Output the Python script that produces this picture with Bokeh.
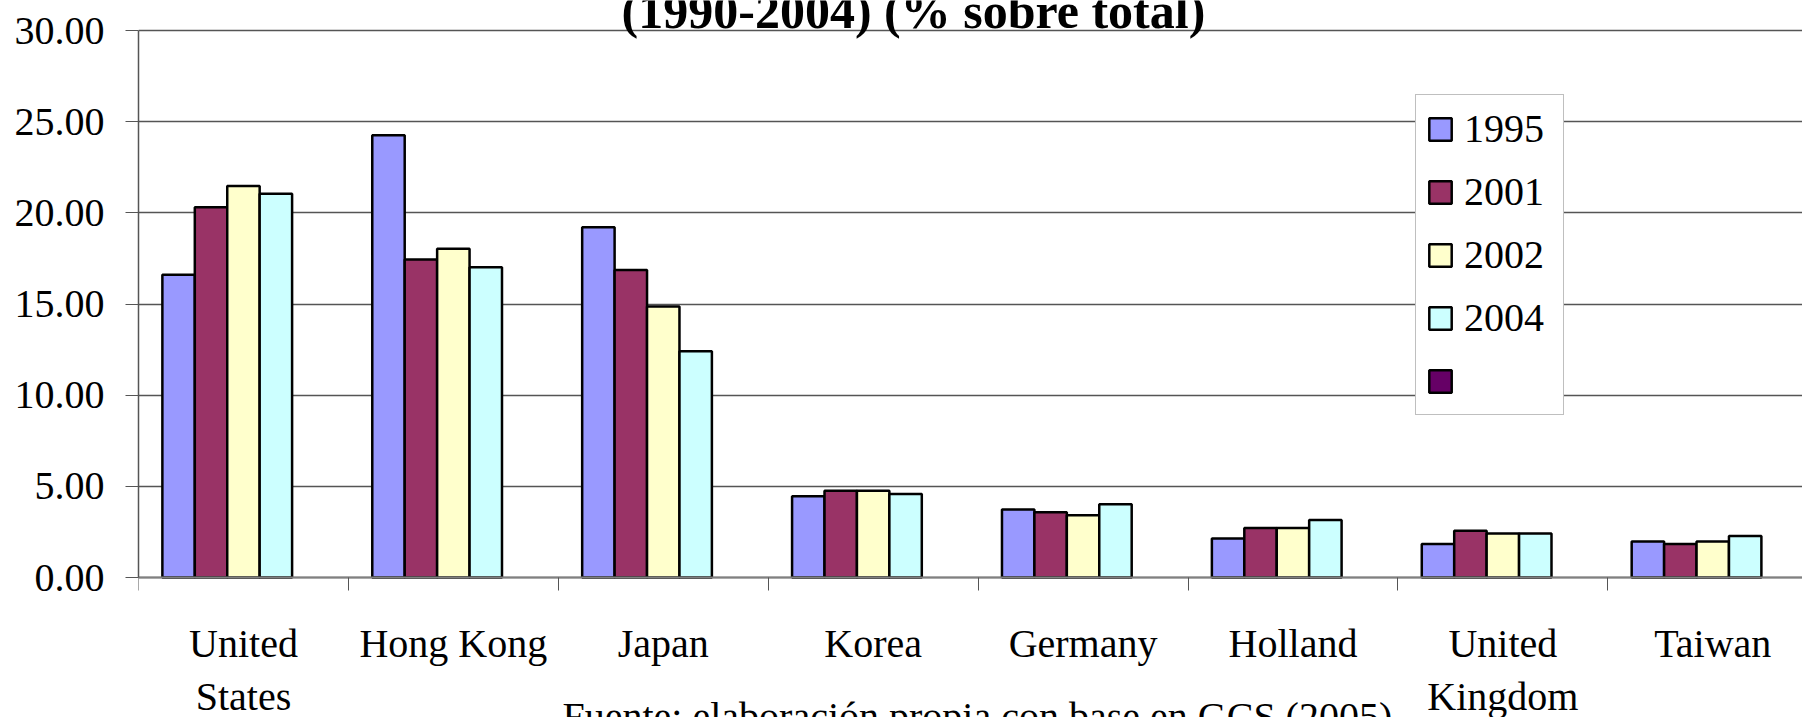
import numpy as np
from bokeh.plotting import figure
from bokeh.models import (ColumnDataSource, FixedTicker, NumeralTickFormatter, Legend,
                          LegendItem, Label, LinearAxis, Range1d)
from bokeh.embed import file_html
from bokeh.resources import INLINE

# ---------------- data ----------------
categories = ["United\nStates", "Hong Kong", "Japan", "Korea", "Germany",
              "Holland", "United\nKingdom", "Taiwan"]
years = ["1995", "2001", "2002", "2004", ""]
v1995 = [16.60, 24.25, 19.21, 4.45, 3.73, 2.14, 1.84, 1.98]
v2001 = [20.31, 17.44, 16.87, 4.76, 3.58, 2.71, 2.57, 1.84]
v2002 = [21.47, 18.03, 14.86, 4.76, 3.41, 2.71, 2.42, 1.98]
v2004 = [21.05, 17.02, 12.41, 4.58, 4.02, 3.15, 2.42, 2.28]
v_empty = [None] * 8   # fifth (unnamed) series of the legend, no values
y_ticks = [0, 5, 10, 15, 20, 25, 30]
title_text = "(1990-2004) (% sobre total)"
source_text = "Fuente: elaboración propia con base en GCS (2005)"

colors = ["#9999FF", "#993366", "#FFFFCC", "#CCFFFF", "#660066"]
FONT = "Liberation Serif"

# ---------------- layout ----------------
W, H = 1802, 717
LEFT = 138
Y0_PX, Y30_PX = 577, 30              # canvas rows of the 0 and 30 gridlines
PXU = (Y0_PX - Y30_PX) / 30.0
y_top = 30 + Y30_PX / PXU
y_bot = -(H - Y0_PX) / PXU
CAT_PX = 209.9
n = len(categories)
x_end = (W - LEFT) / CAT_PX

p = figure(width=W, height=H, x_range=Range1d(0, x_end), y_range=Range1d(y_bot, y_top),
           output_backend="svg", toolbar_location=None,
           min_border_left=LEFT, min_border_right=0, min_border_top=0,
           min_border_bottom=0)
p.outline_line_color = None
p.background_fill_color = "white"
p.border_fill_color = "white"

# grid
p.xgrid.visible = False
p.ygrid.ticker = FixedTicker(ticks=y_ticks)
p.ygrid.grid_line_color = "#555555"
p.ygrid.grid_line_width = 1.5

# y axis
p.yaxis.ticker = FixedTicker(ticks=y_ticks)
p.yaxis.bounds = (0, 30)
p.yaxis.formatter = NumeralTickFormatter(format="0.00")
p.yaxis.major_label_text_font = FONT
p.yaxis.major_label_text_font_size = "40px"
p.yaxis.major_label_text_color = "black"
p.yaxis.major_tick_out = 13
p.yaxis.major_tick_in = 0
p.yaxis.minor_tick_line_color = None
p.yaxis.major_tick_line_color = "#555555"
p.yaxis.axis_line_color = "#555555"
p.yaxis.axis_line_width = 1.5
p.yaxis.major_label_standoff = 21

# x axis at y = 0: labels at category centres, small ticks at category boundaries
centers = [i + 0.5 for i in range(n)]
line1 = [c.split("\n")[0] for c in categories]
line2 = [c.split("\n")[1] if "\n" in c else "" for c in categories]
p.xaxis.fixed_location = 0
p.xaxis.ticker = FixedTicker(ticks=centers, minor_ticks=list(range(n + 1)))
p.xaxis.major_label_overrides = {c: t for c, t in zip(centers, line1)}
p.xaxis.major_tick_out = 0
p.xaxis.major_tick_in = 0
p.xaxis.major_tick_line_color = None
p.xaxis.minor_tick_out = 13
p.xaxis.minor_tick_in = 0
p.xaxis.minor_tick_line_color = "#555555"
p.xaxis.axis_line_color = "#808080"
p.xaxis.axis_line_width = 2
p.xaxis.major_label_standoff = 30
p.xaxis.major_label_text_font = FONT
p.xaxis.major_label_text_font_size = "40px"
p.xaxis.major_label_text_color = "black"

# second line of the wrapped category names, as a second axis
ax2 = LinearAxis(ticker=FixedTicker(ticks=centers), fixed_location=0,
                 major_label_overrides={c: t for c, t in zip(centers, line2)},
                 major_tick_out=0, major_tick_in=0, minor_tick_out=0, minor_tick_in=0,
                 axis_line_color=None, major_tick_line_color=None,
                 minor_tick_line_color=None, major_label_standoff=96,
                 major_label_text_font=FONT, major_label_text_font_size="40px",
                 major_label_text_color="black")
p.add_layout(ax2, "below")

# bars
BAR_W = 0.1545
series = [v1995, v2001, v2002, v2004, v_empty]
renderers = []
for k, (vals, col) in enumerate(zip(series, colors)):
    off = (k - 2) * BAR_W
    xs = [c + off for c in centers]
    top = [np.nan if v is None else v for v in vals]
    src = ColumnDataSource(dict(x=xs, top=top))
    r = p.vbar(x="x", top="top", bottom=0, width=BAR_W, source=src,
               fill_color=col, line_color="black", line_width=2.5)
    renderers.append(r)

# legend
items = [LegendItem(label=(lab if lab else " "), renderers=[r])
         for lab, r in zip(years, renderers)]
legend = Legend(items=items, location=(1277, 302), margin=0, padding=10, spacing=16,
                glyph_width=28, glyph_height=28, label_standoff=10, label_height=47,
                label_width=89,
                label_text_font=FONT, label_text_font_size="40px",
                label_text_color="black",
                border_line_color="#808080", border_line_width=1.5,
                background_fill_color="white", background_fill_alpha=1.0)
p.add_layout(legend)

# title (cut at the top) and source note (cut at the bottom)
p.add_layout(Label(x=3.692, y=31.09, text=title_text, text_align="center",
                   text_baseline="middle", text_font=FONT, text_font_size="50px",
                   text_font_style="bold", text_color="black"))
p.add_layout(Label(x=2.020, y=-7.64, text=source_text, text_align="left",
                   text_baseline="middle", text_font=FONT, text_font_size="40px",
                   text_color="black"))

open("out.html", "w").write(file_html(p, INLINE))
